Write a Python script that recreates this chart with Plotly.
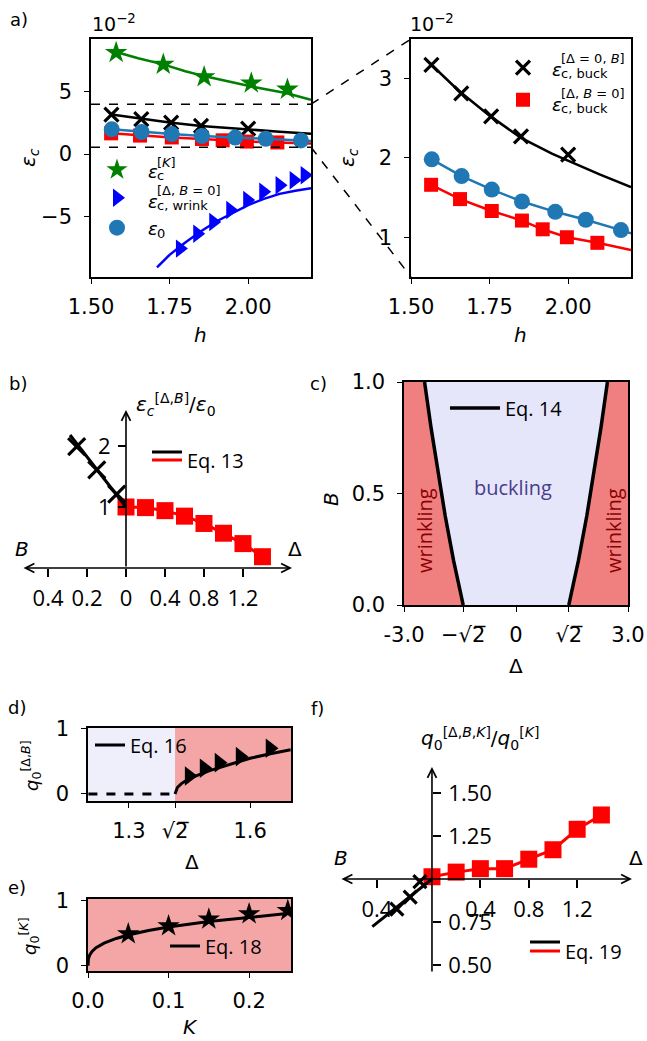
import plotly.graph_objects as go

W, H = 647, 1041


def fx(p):
    return p / W


def fy(p):
    return 1 - p / H


DJ = "DejaVu Sans"
OS = "Open Sans"
C0 = "#1f77b4"
GREEN = "#008000"
RED = "#ff0000"
BLUE = "#0000ff"
CORAL = "#f08080"
LAV = "#e6e6fa"
CORAL_A = "rgba(240,128,128,0.7)"
LAV_A = "rgba(230,230,250,0.65)"

# ---------------- panel a (values in units of 1e-2) ----------------
h_K = [1.58, 1.73, 1.86, 2.01, 2.125]
eps_K = [8.15, 7.2, 6.2, 5.7, 5.2]
h_K_fit = [1.58, 1.65, 1.73, 1.80, 1.87, 1.94, 2.00, 2.06, 2.12, 2.20]
eps_K_fit = [8.2, 7.7, 7.2, 6.65, 6.2, 5.8, 5.48, 5.18, 4.9, 4.35]

h_buck_B = [1.565, 1.66, 1.755, 1.85, 2.0]
eps_buck_B = [3.17, 2.81, 2.52, 2.27, 2.04]
h_buck_B_fit = [1.565, 1.65, 1.75, 1.85, 1.95, 2.05, 2.10, 2.20]
eps_buck_B_fit = [3.17, 2.85, 2.53, 2.25, 2.05, 1.87, 1.79, 1.63]

h_buck_D = [1.564, 1.656, 1.757, 1.853, 1.919, 1.996, 2.093]
eps_buck_D = [1.66, 1.48, 1.33, 1.21, 1.10, 1.00, 0.93]
h_buck_D_fit = [1.564, 1.656, 1.757, 1.853, 1.919, 1.996, 2.093, 2.20]
eps_buck_D_fit = [1.66, 1.48, 1.33, 1.21, 1.10, 1.00, 0.93, 0.84]

h_0 = [1.566, 1.661, 1.757, 1.853, 1.959, 2.056, 2.168]
eps_0 = [1.98, 1.77, 1.60, 1.45, 1.32, 1.22, 1.09]
h_0_fit = [1.566, 1.661, 1.757, 1.853, 1.959, 2.056, 2.168, 2.20]
eps_0_fit = [1.98, 1.77, 1.60, 1.45, 1.32, 1.22, 1.09, 1.05]

h_wr = [1.783, 1.838, 1.889, 1.943, 1.997, 2.048, 2.10, 2.145, 2.18]
eps_wr = [-7.6, -6.4, -5.46, -4.5, -3.7, -3.04, -2.5, -2.1, -1.7]
h_wr_fit = [1.71, 1.75, 1.80, 1.85, 1.90, 1.95, 2.00, 2.05, 2.10, 2.15, 2.20]
eps_wr_fit = [-9.1, -8.1, -7.1, -6.2, -5.4, -4.75, -4.1, -3.6, -3.2, -2.95, -2.75]

zoom_levels = [0.55, 4.0]
a_xticks = [1.5, 1.75, 2.0]
a_xticktext = ["1.50", "1.75", "2.00"]

# ---------------- panel b ----------------
b_delta = [0.0, 0.2, 0.4, 0.6, 0.8, 1.0, 1.2, 1.4]
b_ratio_delta = [1.0, 0.99, 0.94, 0.85, 0.73, 0.57, 0.40, 0.185]
b_B = [-0.506, -0.30, -0.095]
b_ratio_B = [1.99, 1.61, 1.21]
b_B_fit = [0.0, -0.2, -0.4, -0.574]
b_ratio_B_fit = [1.0, 1.41, 1.82, 2.18]
b_xtick_vals = [-0.8, -0.4, 0, 0.4, 0.8, 1.2]
b_xtick_text = ["0.4", "0.2", "0", "0.4", "0.8", "1.2"]

# ---------------- panel c ----------------
c_B = [0.0, 0.2, 0.4, 0.6, 0.8, 1.0]
c_delta = [1.414, 1.673, 1.897, 2.098, 2.280, 2.449]

# ---------------- panel d ----------------
d_delta = [1.449, 1.486, 1.523, 1.575, 1.649]
d_q = [0.277, 0.395, 0.482, 0.574, 0.703]
d_delta_fit = [1.4142, 1.42, 1.43, 1.45, 1.50, 1.55, 1.60, 1.65, 1.70]
d_q_fit = [0.0, 0.10, 0.16, 0.24, 0.36, 0.46, 0.55, 0.62, 0.68]
d_delta_flat = [1.2, 1.4142]
d_q_flat = [0.0, 0.0]

# ---------------- panel e ----------------
e_K = [0.05, 0.10, 0.15, 0.20, 0.248]
e_q = [0.488, 0.612, 0.715, 0.797, 0.848]
e_K_fit = [0.0, 0.0005, 0.002, 0.005, 0.01, 0.02, 0.035, 0.05, 0.075, 0.10, 0.15, 0.20, 0.25]
e_q_fit = [0.0, 0.101, 0.161, 0.219, 0.276, 0.347, 0.419, 0.472, 0.540, 0.594, 0.680, 0.748, 0.806]

# ---------------- panel f ----------------
f_delta = [0.0, 0.2, 0.4, 0.6, 0.8, 1.0, 1.2, 1.4]
f_ratio_delta = [1.013, 1.04, 1.06, 1.06, 1.115, 1.17, 1.289, 1.372]
f_B = [-0.10, -0.18, -0.29]
f_ratio_B = [0.985, 0.895, 0.825]
f_B_fit = [0.0, -0.25, -0.493]
f_ratio_B_fit = [1.0, 0.86, 0.723]
f_xtick_vals = [-0.455, 0.4, 0.8, 1.2]
f_xtick_text = ["0.4", "0.4", "0.8", "1.2"]

# ---------------- geometry (pixels -> paper) ----------------
XD = {
    "a1": [fx(91), fx(311)], "a2": [fx(411), fx(631)], "b": [fx(22), fx(292)],
    "c": [fx(404), fx(628)], "d": [fx(88), fx(291)], "e": [fx(88), fx(291)],
    "f": [fx(340), fx(632)],
}
YD = {
    "a1": [fy(277), fy(39)], "a2": [fy(277), fy(39)], "b": [fy(568), fy(410)],
    "c": [fy(605), fy(382)], "d": [fy(801), fy(728)], "e": [fy(971), fy(899)],
    "f": [fy(973), fy(767)],
}
XR = {"a1": [1.5, 2.2], "a2": [1.5, 2.2], "b": [-1.067, 1.703], "c": [-3, 3],
      "d": [1.199, 1.701], "e": [0, 0.252], "f": [-0.76, 1.653]}
YR = {"a1": [-9.88, 9.24], "a2": [0.5, 3.494], "b": [0, 2.59], "c": [0, 1],
      "d": [-0.108, 1.015], "e": [-0.082, 1.026], "f": [0.4535, 1.651]}


def to_paper(v, rng, dom):
    return dom[0] + (v - rng[0]) / (rng[1] - rng[0]) * (dom[1] - dom[0])


fig = go.Figure()


def sc(x, y, xa, ya, mode="lines", color="black", width=2.5, dash=None,
       symbol=None, size=14, legend=None, name=" ", **kw):
    t = dict(x=x, y=y, xaxis=xa, yaxis=ya, mode=mode, name=name,
             hoverinfo="skip", showlegend=legend is not None)
    if legend is not None:
        t["legend"] = legend
    if "lines" in mode:
        t["line"] = dict(color=color, width=width, dash=dash)
    if "markers" in mode:
        if symbol == "x-thin-open":
            t["marker"] = dict(symbol=symbol, size=size, color=color,
                               line=dict(color=color, width=3.2))
        else:
            t["marker"] = dict(symbol=symbol, size=size, color=color,
                               line=dict(width=0))
    t.update(kw)
    fig.add_trace(go.Scatter(**t))


# ---- panel a left ----
sc(h_K_fit, eps_K_fit, "x", "y", color=GREEN, width=2.5)
sc(h_K, eps_K, "x", "y", mode="markers", color=GREEN, symbol="star", size=17, legend="legend")
sc(h_buck_B_fit, eps_buck_B_fit, "x", "y", color="black", width=2.5)
sc(h_buck_B, eps_buck_B, "x", "y", mode="markers", color="black", symbol="x-thin-open", size=14)
sc(h_buck_D_fit, eps_buck_D_fit, "x", "y", color=RED, width=2.5)
sc(h_buck_D, eps_buck_D, "x", "y", mode="markers", color=RED, symbol="square", size=14)
sc(h_0_fit, eps_0_fit, "x", "y", color=C0, width=2.5)
sc(h_0, eps_0, "x", "y", mode="markers", color=C0, symbol="circle", size=16, legend="legend3")
sc(h_wr_fit, eps_wr_fit, "x", "y", color=BLUE, width=2.5)
sc(h_wr, eps_wr, "x", "y", mode="markers", color=BLUE, symbol="triangle-right", size=16, legend="legend2")

# ---- panel a right ----
sc(h_buck_B_fit, eps_buck_B_fit, "x2", "y2", color="black", width=2.5)
sc(h_buck_B, eps_buck_B, "x2", "y2", mode="markers", color="black", symbol="x-thin-open", size=14, legend="legend4")
sc(h_0_fit, eps_0_fit, "x2", "y2", color=C0, width=2.5)
sc(h_0, eps_0, "x2", "y2", mode="markers", color=C0, symbol="circle", size=16)
sc(h_buck_D_fit, eps_buck_D_fit, "x2", "y2", color=RED, width=2.5)
sc(h_buck_D, eps_buck_D, "x2", "y2", mode="markers", color=RED, symbol="square", size=14, legend="legend5")

# ---- panel b ----
sc(b_delta, b_ratio_delta, "x3", "y3", color=RED, width=3, legend="legend7", name="Eq. 13")
sc(b_delta, b_ratio_delta, "x3", "y3", mode="markers", color=RED, symbol="square", size=17)
sc(b_B_fit, b_ratio_B_fit, "x3", "y3", color="black", width=3, legend="legend6")
sc(b_B, b_ratio_B, "x3", "y3", mode="markers", color="black", symbol="x-thin-open", size=17)

# ---- panel c ----
sc([-3.0] + [-v for v in c_delta] + [-3.0], [0.0] + c_B + [1.0], "x4", "y4",
   width=0, fill="toself", fillcolor=CORAL)
sc([3.0] + c_delta + [3.0], [0.0] + c_B + [1.0], "x4", "y4",
   width=0, fill="toself", fillcolor=CORAL)
sc([-v for v in c_delta], c_B, "x4", "y4", color="black", width=3.5)
sc(c_delta, c_B, "x4", "y4", color="black", width=3.5, legend="legend8", name="Eq. 14")

# ---- panel d ----
sc(d_delta_flat, d_q_flat, "x5", "y5", color="black", width=3, dash="dash")
sc(d_delta_fit, d_q_fit, "x5", "y5", color="black", width=3, legend="legend9", name="Eq. 16")
sc(d_delta, d_q, "x5", "y5", mode="markers", color="black", symbol="triangle-right", size=17)

# ---- panel e ----
sc(e_K_fit, e_q_fit, "x6", "y6", color="black", width=3, legend="legend10", name="Eq. 18")
sc(e_K, e_q, "x6", "y6", mode="markers", color="black", symbol="star", size=17)

# ---- panel f ----
sc(f_delta, f_ratio_delta, "x7", "y7", color=RED, width=3, legend="legend12", name="Eq. 19")
sc(f_delta, f_ratio_delta, "x7", "y7", mode="markers", color=RED, symbol="square", size=17)
sc(f_B_fit, f_ratio_B_fit, "x7", "y7", color="black", width=3, legend="legend11")
sc(f_B, f_ratio_B, "x7", "y7", mode="markers", color="black", symbol="x-thin-open", size=13)


# ---------------- axes ----------------
def box_axis(k, which, tickvals, ticktext=None, anchor=None, size=21, family=DJ, standoff=5):
    d = dict(domain=(XD if which == "x" else YD)[k], range=(XR if which == "x" else YR)[k],
             showline=True, linecolor="black", linewidth=1.5, mirror=True,
             ticks="outside", ticklen=5, tickwidth=1.2, tickcolor="black",
             showgrid=False, zeroline=False, tickvals=tickvals,
             tickfont=dict(family=family, size=size, color="black"),
             anchor=anchor, fixedrange=True, ticklabelstandoff=standoff)
    if ticktext is not None:
        d["ticktext"] = ticktext
    return d


def free_axis(k, which, tickvals, ticktext=None, anchor=None, position=None, side=None):
    d = dict(domain=(XD if which == "x" else YD)[k], range=(XR if which == "x" else YR)[k],
             showline=False, ticks="outside", ticklen=8, tickwidth=1.5, tickcolor="black",
             showgrid=False, zeroline=False, tickvals=tickvals,
             tickfont=dict(family=OS, size=22, color="black"), fixedrange=True,
             anchor=anchor, ticklabelstandoff=3)
    if position is not None:
        d["position"] = position
    if side is not None:
        d["side"] = side
    if ticktext is not None:
        d["ticktext"] = ticktext
    return d


SQ2 = "\u221a2\u0305"
layout = dict(
    width=W, height=H, margin=dict(l=0, r=0, t=0, b=0, autoexpand=False),
    plot_bgcolor="white", paper_bgcolor="white",
    font=dict(family=DJ, size=20, color="black"),
    xaxis=box_axis("a1", "x", a_xticks, a_xticktext, anchor="y"),
    yaxis=box_axis("a1", "y", [-5, 0, 5], anchor="x", standoff=8),
    xaxis2=box_axis("a2", "x", a_xticks, a_xticktext, anchor="y2"),
    yaxis2=box_axis("a2", "y", [1, 2, 3], anchor="x2", standoff=8),
    xaxis3=free_axis("b", "x", b_xtick_vals, b_xtick_text, anchor="y3"),
    yaxis3=free_axis("b", "y", [1, 2], anchor="free", position=fx(126)),
    xaxis4=box_axis("c", "x", [-3, -1.4142, 0, 1.4142, 3],
                    ["-3.0", "\u2212" + SQ2, "0", SQ2, "3.0"], anchor="y4"),
    yaxis4=box_axis("c", "y", [0, 0.5, 1], ["0.0", "0.5", "1.0"], anchor="x4", standoff=8),
    xaxis5=box_axis("d", "x", [1.3, 1.4142, 1.6], ["1.3", SQ2, "1.6"], anchor="y5"),
    yaxis5=box_axis("d", "y", [0, 1], anchor="x5", standoff=8),
    xaxis6=box_axis("e", "x", [0, 0.1, 0.2], ["0.0", "0.1", "0.2"], anchor="y6"),
    yaxis6=box_axis("e", "y", [0, 1], anchor="x6", standoff=8),
    xaxis7=free_axis("f", "x", f_xtick_vals, f_xtick_text, anchor="free",
                     position=to_paper(1.0, YR["f"], YD["f"])),
    yaxis7=free_axis("f", "y", [0.5, 0.75, 1.25, 1.5], ["0.50", "0.75", "1.25", "1.50"],
                     anchor="free", position=to_paper(0.0, XR["f"], XD["f"]), side="right"),
)


def leg(x, y, family=DJ, size=18, itemwidth=30):
    return dict(x=fx(x), y=fy(y), xanchor="left", yanchor="middle",
                bgcolor="rgba(0,0,0,0)", borderwidth=0, itemwidth=itemwidth,
                font=dict(family=family, size=size, color="black"))


layout["legend"] = leg(97, 170)
layout["legend2"] = leg(97, 198)
layout["legend3"] = leg(97, 228)
layout["legend4"] = leg(503, 68)
layout["legend5"] = leg(503, 100)
layout["legend6"] = leg(147, 452, OS, 20)
layout["legend7"] = leg(147, 460, OS, 20)
layout["legend8"] = leg(445, 408, OS, 20, itemwidth=50)
layout["legend9"] = leg(90, 745, OS, 20)
layout["legend10"] = leg(165, 946, OS, 20)
layout["legend11"] = leg(525, 942, OS, 20)
layout["legend12"] = leg(525, 951, OS, 20)
fig.update_layout(**layout)

# ---------------- shapes ----------------
shapes = []
for v in zoom_levels:
    shapes.append(dict(type="line", xref="x domain", yref="y", x0=0, x1=1, y0=v, y1=v,
                       line=dict(color="black", width=1.5, dash="dash")))
xr_edge = to_paper(XR["a1"][1], XR["a1"], XD["a1"])
shapes.append(dict(type="line", xref="paper", yref="paper",
                   x0=xr_edge, y0=to_paper(zoom_levels[1], YR["a1"], YD["a1"]),
                   x1=XD["a2"][0], y1=YD["a2"][1],
                   line=dict(color="black", width=1.5, dash="dash")))
shapes.append(dict(type="line", xref="paper", yref="paper",
                   x0=xr_edge, y0=to_paper(zoom_levels[0], YR["a1"], YD["a1"]),
                   x1=XD["a2"][0], y1=YD["a2"][0],
                   line=dict(color="black", width=1.5, dash="dash")))
shapes.append(dict(type="rect", xref="x4 domain", yref="y4 domain", x0=0, x1=1, y0=0, y1=1,
                   fillcolor=LAV, line=dict(width=0), layer="below"))
shapes.append(dict(type="rect", xref="x5", yref="y5 domain", x0=XR["d"][0], x1=d_delta_flat[1],
                   y0=0, y1=1, fillcolor=LAV_A, line=dict(width=0), layer="below"))
shapes.append(dict(type="rect", xref="x5", yref="y5 domain", x0=d_delta_flat[1], x1=XR["d"][1],
                   y0=0, y1=1, fillcolor=CORAL_A, line=dict(width=0), layer="below"))
shapes.append(dict(type="rect", xref="x6 domain", yref="y6 domain", x0=0, x1=1, y0=0, y1=1,
                   fillcolor=CORAL_A, line=dict(width=0), layer="below"))
fig.update_layout(shapes=shapes)

# ---------------- annotations ----------------
ann = []


def txt(x, y, s, size=20, family=DJ, color="black", xanchor="center", yanchor="middle", angle=0):
    ann.append(dict(x=fx(x), y=fy(y), xref="paper", yref="paper", text=s, showarrow=False,
                    font=dict(family=family, size=size, color=color), xanchor=xanchor,
                    yanchor=yanchor, textangle=angle))


def arrow(xa, ya, x0, y0, x1, y1, both=False):
    ann.append(dict(xref=xa, yref=ya, axref=xa, ayref=ya, x=x1, y=y1, ax=x0, ay=y0, text="",
                    showarrow=True, arrowhead=5, startarrowhead=5,
                    arrowside="end+start" if both else "end",
                    arrowsize=1.1, startarrowsize=1.1, arrowwidth=1.6, arrowcolor="black",
                    standoff=0, startstandoff=0))


# panel labels
for lab, (x, y) in {"a)": (19, 20), "b)": (18, 383), "c)": (318, 383), "d)": (17, 707),
                    "e)": (17, 887), "f)": (317, 708)}.items():
    txt(x, y, lab, size=18)

# offsets 10^-2
txt(90, 37, "10<sup>\u22122</sup>", size=19, xanchor="left", yanchor="bottom")
txt(408, 37, "10<sup>\u22122</sup>", size=19, xanchor="left", yanchor="bottom")

# axis titles
txt(29, 158, "<i>\u03b5</i><sub><i>c</i></sub>", angle=-90)
txt(348, 158, "<i>\u03b5</i><sub><i>c</i></sub>", angle=-90)
txt(200, 335, "<i>h</i>")
txt(520, 335, "<i>h</i>")
txt(331, 499, "<i>B</i>", angle=-90)
txt(516, 666, "\u0394")
txt(192, 862, "\u0394")
txt(190, 1027, "<i>K</i>")
txt(31, 765, "<i>q</i><sub>0</sub><sup>[\u0394,<i>B</i>]</sup>", size=18, angle=-90)
txt(29, 936, "<i>q</i><sub>0</sub><sup>[<i>K</i>]</sup>", size=18, angle=-90)
txt(176, 404, "<i>\u03b5</i><sub><i>c</i></sub><sup>[\u0394,<i>B</i>]</sup>/<i>\u03b5</i><sub>0</sub>")
txt(480, 738, "<i>q</i><sub>0</sub><sup>[\u0394,<i>B</i>,<i>K</i>]</sup>/<i>q</i><sub>0</sub><sup>[<i>K</i>]</sup>")
txt(22, 549, "<i>B</i>")
txt(295, 549, "\u0394")
txt(341, 858, "<i>B</i>")
txt(636, 858, "\u0394")

# panel c region labels
txt(513, 487, "buckling", size=20, family=OS, color="#483d8b")
txt(424, 531, "wrinkling", size=20, family=OS, color="#8b0000", angle=-90)
txt(613, 531, "wrinkling", size=20, family=OS, color="#8b0000", angle=-90)


# legend labels (stacked super/subscripts)
def eps_label(x, y, sup, sub, dy_sup=-10, dy_sub=4):
    txt(x, y, "<i>\u03b5</i>", size=18, xanchor="left")
    if sup:
        txt(x + 9, y + dy_sup, sup, size=13, xanchor="left")
    if sub:
        txt(x + 9, y + dy_sub, sub, size=13, xanchor="left")


eps_label(146, 172, "[<i>K</i>]", "c")
eps_label(146, 201, "[\u0394, <i>B</i> = 0]", "c, wrink")
eps_label(146, 228, None, "0", dy_sub=6)
eps_label(550, 69, "[\u0394 = 0, <i>B</i>]", "c, buck")
eps_label(550, 104, "[\u0394, <i>B</i> = 0]", "c, buck")

# arrow axes of panels b and f
arrow("x3", "y3", XR["b"][0], 0, XR["b"][1], 0, both=True)
arrow("x3", "y3", 0, 0, 0, YR["b"][1])
arrow("x7", "y7", XR["f"][0], 1.0, XR["f"][1], 1.0, both=True)
arrow("x7", "y7", 0, YR["f"][0], 0, YR["f"][1])

fig.update_layout(annotations=ann)
fig.write_html(
    "out.html",
    config={"displayModeBar": False},
    post_script="document.body.style.margin='0';document.body.style.padding='0';"
                "document.documentElement.style.overflow='hidden';",
)
